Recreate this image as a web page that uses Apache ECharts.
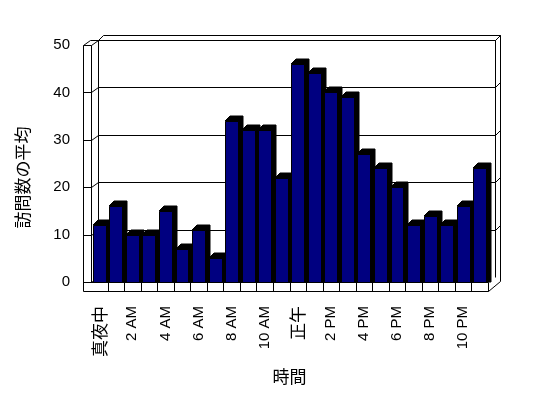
<!DOCTYPE html>
<html>
<head>
<meta charset="utf-8">
<script src="https://cdn.jsdelivr.net/npm/echarts@6/dist/echarts.min.js"></script>
<style>
html, body { margin: 0; padding: 0; background: #fff; }
#chart { width: 548px; height: 398px; }
</style>
</head>
<body>
<div id="chart"></div>
<script>
var hours = ['真夜中', '1 AM', '2 AM', '3 AM', '4 AM', '5 AM', '6 AM', '7 AM', '8 AM', '9 AM', '10 AM', '11 AM',
             '正午', '1 PM', '2 PM', '3 PM', '4 PM', '5 PM', '6 PM', '7 PM', '8 PM', '9 PM', '10 PM', '11 PM'];
var visits = [12, 16, 10, 10, 15, 7, 11, 5, 34, 32, 32, 22, 46, 44, 40, 39, 27, 24, 20, 12, 14, 12, 16, 24];
var yTicks = [0, 10, 20, 30, 40, 50];

var DX = 7, DY = 5;   // depth of the walls
var BX = 5, BY = 5;   // depth of the bars
var lineStyle = { stroke: '#000', lineWidth: 1, fill: null };

function px(v) { return Math.round(v) + 0.5; }

// walls, floor and gridlines, drawn from the grid rect and the value axis
function renderFrame(params, api) {
    var cs = params.coordSys;
    var x0 = cs.x, x1 = cs.x + cs.width;
    var yTop = cs.y, yBot = cs.y + cs.height;
    var kids = [];
    function line(a, b, c, d) {
        kids.push({ type: 'line', shape: { x1: px(a), y1: px(b), x2: px(c), y2: px(d) }, style: lineStyle });
    }
    // back wall
    line(x0 + DX, yTop - DY, x0 + DX, yBot - DY);
    line(x0 + DX, yTop - DY, x1 + DX, yTop - DY);
    line(x1 + DX, yTop - DY, x1 + DX, yBot - DY);
    line(x0 + DX, yTop - DY, x0 + DX + 5, yTop - DY - 5);
    line(x0 + DX + 5, yTop - DY - 5, x1 + DX + 5, yTop - DY - 5);
    line(x1 + DX, yTop - DY, x1 + DX + 5, yTop - DY - 5);
    line(x1 + DX + 5, yTop - DY - 5, x1 + DX + 5, yBot - 1);
    // gridlines and ticks on the left wall
    yTicks.forEach(function (v) {
        var yv = api.coord([0, v])[1];
        line(x0 - 8, yv, x0, yv);
        line(x0, yv, x0 + DX, yv - DY);
        if (v > 0) {
            line(x0 + DX, yv - DY, x1 + DX, yv - DY);
            line(x1 + DX, yv - DY, x1 + DX + 5, yv - DY - 5);
        }
    });
    // left wall
    line(x0 - 8, yTop, x0 - 8, yBot + 9);
    line(x0, yTop, x0, yBot);
    line(x0 - 8, yTop, x0 - 1, yTop - 5);
    line(x0 - 1, yTop - 5, x0 + DX, yTop - 5);
    // floor
    line(x0 - 8, yBot, x1, yBot);
    line(x0 - 8, yBot + 9, x1, yBot + 9);
    line(x1, yBot, x1, yBot + 9);
    line(x1, yBot + 9, x1 + DX + 5, yBot - 1);
    var band = api.size([1, 0])[0];
    for (var i = 1; i < hours.length; i++) {
        var xb = api.coord([i, 0])[0] - band / 2;
        line(xb, yBot, xb, yBot + 9);
    }
    return { type: 'group', children: kids };
}

function renderBar(params, api) {
    var top = api.coord([api.value(0), api.value(1)]);
    var base = api.coord([api.value(0), 0]);
    var w = api.size([1, 0])[0] * 0.78;
    var l = Math.round(top[0] - w / 2), r = Math.round(top[0] + w / 2);
    var t = Math.round(top[1]), b = Math.round(base[1]);
    return {
        type: 'group',
        children: [
            { type: 'polygon',
              shape: { points: [[l, t], [l + BX, t - BY], [r + BX, t - BY], [r + BX, b], [r, b], [r, t]] },
              style: { fill: '#000', stroke: '#000', lineWidth: 1 } },
            { type: 'rect',
              shape: { x: l + 0.5, y: t + 0.5, width: r - l, height: b - t },
              style: { fill: '#000080', stroke: '#000', lineWidth: 1 } }
        ]
    };
}

var chart = echarts.init(document.getElementById('chart'));
var option = {
    animation: false,
    backgroundColor: '#fff',
    grid: { left: 91, top: 45, width: 397, height: 237 },
    xAxis: {
        type: 'category',
        data: hours,
        name: '時間',
        nameLocation: 'middle',
        nameGap: 86,
        nameTextStyle: { fontFamily: 'Noto Sans CJK JP', fontSize: 17, color: '#000' },
        axisLine: { show: false },
        axisTick: { show: false },
        axisLabel: {
            interval: 1,
            rotate: 90,
            margin: 24,
            color: '#000',
            fontFamily: 'Liberation Sans',
            fontSize: 15,
            formatter: function (s) {
                return /[A-Z]/.test(s) ? s : '{cjk|' + s + '}';
            },
            rich: { cjk: { fontFamily: 'Noto Sans CJK JP', fontSize: 17, color: '#000' } }
        }
    },
    yAxis: {
        type: 'value',
        min: 0,
        max: 50,
        interval: 10,
        name: '訪問数の平均',
        nameLocation: 'middle',
        nameGap: 60,
        nameTextStyle: { fontFamily: 'Noto Sans CJK JP', fontSize: 17, color: '#000', padding: [0, 28, 0, 0] },
        axisLine: { show: false },
        axisTick: { show: false },
        splitLine: { show: false },
        axisLabel: { margin: 21, color: '#000', fontFamily: 'Liberation Sans', fontSize: 15 }
    },
    series: [
        { name: 'frame', type: 'custom', renderItem: renderFrame, data: [[0, 0]], silent: true, z: 1 },
        { name: '訪問数の平均', type: 'custom', renderItem: renderBar,
          data: visits.map(function (v, i) { return [i, v]; }), z: 2 }
    ]
};
chart.setOption(option);
</script>
</body>
</html>
